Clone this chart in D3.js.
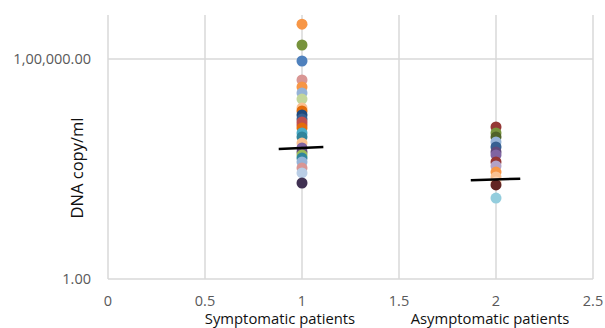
<!DOCTYPE html>
<html>
<head>
<meta charset="utf-8">
<script src="https://cdn.jsdelivr.net/npm/d3@7"></script>
<style>
  body { margin: 0; background: #fff; }
  text { font-family: "Open Sans", sans-serif; }
</style>
</head>
<body>
<div id="chart"></div>
<script>
// values (DNA copy/ml, log scale)
var symptomaticValues = [620000, 208000, 90000, 33300, 23100, 16900, 12300, 7700, 6580, 5340,
  4330, 3700, 3160, 2700, 2080, 1690, 1230, 950, 770, 660, 560, 456, 333, 257, 152];
var asymptomaticValues = [2850, 2080, 1690, 1300, 1000, 770, 660, 456, 370, 270, 208, 160, 137, 69];

var symptomaticColors = ["#F79646", "#77933C", "#4F81BD", "#D99694", "#F79646", "#95B3D7", "#C3D69B",
  "#FAC090", "#E46C0A", "#1F497D", "#376092", "#C0504D", "#C0504D", "#E46C0A", "#4BACC6", "#31859C",
  "#FAC090", "#8064A2", "#604A7B", "#9BBB59", "#31859C", "#95B3D7", "#D99694", "#B9CDE5", "#403152"];
var asymptomaticColors = ["#953735", "#77933C", "#4F6228", "#95B3D7", "#376092", "#604A7B", "#8064A2",
  "#953735", "#B3A2C7", "#F79646", "#FAC090", "#FCD5B5", "#632523", "#93CDDD"];

// mean bars: x start/end, y at start/end
var meanX0 = [0.88, 1.87];
var meanX1 = [1.11, 2.125];
var meanY0 = [900, 175];
var meanY1 = [1000, 190];

var xTicks = [0, 0.5, 1, 1.5, 2, 2.5];
var yTicks = [1, 100000];
var yTickLabels = ["1.00", "1,00,000.00"];
var categories = ["Symptomatic patients", "Asymptomatic patients"];
var categoryX = [1, 2];

var width = 605, height = 328;
var margin = {top: 15, right: 12, bottom: 49, left: 108};

var svg = d3.select("#chart").append("svg")
  .attr("width", width)
  .attr("height", height);

var x = d3.scaleLinear()
  .domain([0, 2.5])
  .range([margin.left, width - margin.right]);

var y = d3.scaleLog()
  .domain([1, 1000000])
  .range([height - margin.bottom, margin.top]);

var grid = svg.append("g").attr("class", "grid");

// vertical gridlines
grid.selectAll("line.vx")
  .data(xTicks)
  .enter().append("line")
    .attr("class", "vx")
    .attr("x1", function(d) { return x(d); })
    .attr("x2", function(d) { return x(d); })
    .attr("y1", y(1000000))
    .attr("y2", y(1))
    .style("stroke", "#d9d9d9")
    .style("stroke-width", 1.5);

// horizontal gridlines
grid.selectAll("line.hy")
  .data(yTicks)
  .enter().append("line")
    .attr("class", "hy")
    .attr("x1", x(0))
    .attr("x2", x(2.5))
    .attr("y1", function(d) { return y(d); })
    .attr("y2", function(d) { return y(d); })
    .style("stroke", "#d9d9d9")
    .style("stroke-width", 1.5);

// y tick labels
svg.append("g")
  .selectAll("text")
  .data(yTicks)
  .enter().append("text")
    .attr("x", x(0) - 17)
    .attr("y", function(d) { return y(d); })
    .attr("dy", "0.35em")
    .attr("text-anchor", "end")
    .style("font-size", "14.5px")
    .style("fill", "#595959")
    .text(function(d, i) { return yTickLabels[i]; });

// x tick labels
svg.append("g")
  .selectAll("text")
  .data(xTicks)
  .enter().append("text")
    .attr("x", function(d) { return x(d); })
    .attr("y", 306)
    .attr("text-anchor", "middle")
    .style("font-size", "14.5px")
    .style("fill", "#595959")
    .text(function(d) { return d3.format("")(d); });

// category labels
svg.append("g")
  .selectAll("text")
  .data(categories)
  .enter().append("text")
    .attr("x", function(d, i) { return x(categoryX[i]) - 22 + i * 16; })
    .attr("y", 324)
    .attr("text-anchor", "middle")
    .style("font-size", "14.8px")
    .style("fill", "#111")
    .text(function(d) { return d; });

// y axis title
svg.append("text")
  .attr("transform", "translate(83," + 168 + ") rotate(-90)")
  .attr("text-anchor", "middle")
  .style("font-size", "16.5px")
  .style("fill", "#111")
  .text("DNA copy/ml");

// points
function drawGroup(values, colors, xv) {
  var pts = values.map(function(v, i) { return {v: v, c: colors[i]}; });
  svg.append("g")
    .selectAll("circle")
    .data(pts)
    .enter().append("circle")
      .attr("cx", x(xv))
      .attr("cy", function(d) { return y(d.v); })
      .attr("r", 5.5)
      .style("fill", function(d) { return d.c; });
}
drawGroup(symptomaticValues, symptomaticColors, 1);
drawGroup(asymptomaticValues, asymptomaticColors, 2);

// mean lines
svg.append("g")
  .selectAll("line")
  .data(meanX0)
  .enter().append("line")
    .attr("x1", function(d) { return x(d); })
    .attr("x2", function(d, i) { return x(meanX1[i]); })
    .attr("y1", function(d, i) { return y(meanY0[i]); })
    .attr("y2", function(d, i) { return y(meanY1[i]); })
    .style("stroke", "#000")
    .style("stroke-width", 2.5);
</script>
</body>
</html>
